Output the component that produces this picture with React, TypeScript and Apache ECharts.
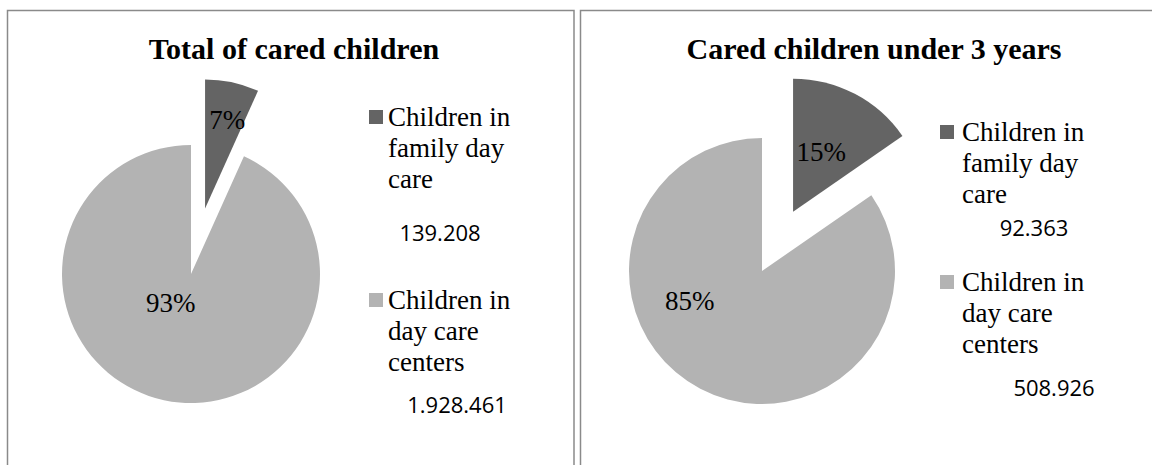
import React, { useEffect, useRef } from "react";
import * as echarts from "echarts";

// ---- data ----
const categories = ["Children in family day care", "Children in day care centers"];
const legendLines = [
  ["Children in", "family day", "care"],
  ["Children in", "day care", "centers"],
];
const chartTitles = ["Total of cared children", "Cared children under 3 years"];
const totalValues = [139208, 1928461];
const under3Values = [92363, 508926];
const sliceColors = ["#646464", "#b3b3b3"];

const SERIF = "'Liberation Serif', serif";
const SANS = "'Open Sans', sans-serif";

function fmt(n: number): string {
  return String(n).replace(/\B(?=(\d{3})+(?!\d))/g, ".");
}

type PanelCfg = {
  values: number[];
  title: string;
  cx: number;
  cy: number;
  r: number;
  titleX: number;
  iconX: number;
  textX: number;
  firstLineY: number[];
  valueX: number[];
  valueY: number[];
  labelNudge: number[][];
};

const panels: PanelCfg[] = [
  {
    values: totalValues,
    title: chartTitles[0],
    cx: 191,
    cy: 274,
    r: 129,
    titleX: 289,
    iconX: 369,
    textX: 388,
    firstLineY: [117, 300],
    valueX: [440, 457],
    valueY: [232, 404],
    labelNudge: [
      [8, -22],
      [-6, -37],
    ],
  },
  {
    values: under3Values,
    title: chartTitles[1],
    cx: 762,
    cy: 271,
    r: 133,
    titleX: 869,
    iconX: 940,
    textX: 962,
    firstLineY: [132, 282],
    valueX: [1034, 1054],
    valueY: [227, 387],
    labelNudge: [
      [-4, 2],
      [-40, -32],
    ],
  },
];

export default function App() {
  const ref = useRef<HTMLDivElement>(null);

  useEffect(() => {
    document.body.style.margin = "0";
    if (!ref.current) return;
    const chart = echarts.init(ref.current, undefined, { renderer: "svg" });

    const series: any[] = panels.map((p) => ({
      type: "pie",
      center: [p.cx, p.cy],
      radius: p.r,
      startAngle: 90,
      clockwise: true,
      selectedMode: "single",
      selectedOffset: 67,
      avoidLabelOverlap: false,
      silent: true,
      data: p.values.map((v, i) => ({
        name: categories[i],
        value: v,
        selected: i === 0,
        itemStyle: { color: sliceColors[i], borderWidth: 0 },
      })),
      label: {
        show: true,
        position: "inside",
        formatter: (params: any) => Math.round(params.percent) + "%",
        fontFamily: SERIF,
        fontSize: 27,
        color: "#000",
      },
      labelLine: { show: false },
      labelLayout: (params: any) => {
        const n = p.labelNudge[params.dataIndex];
        return { dx: n[0], dy: n[1] };
      },
      emphasis: { disabled: true },
    }));

    const graphics: any[] = [
      {
        type: "rect",
        shape: { x: 7.5, y: 10.5, width: 566.5, height: 600 },
        style: { fill: "none", stroke: "#8a8a8a", lineWidth: 1.5 },
        silent: true,
      },
      {
        type: "rect",
        shape: { x: 580.5, y: 10.5, width: 700, height: 600 },
        style: { fill: "none", stroke: "#8a8a8a", lineWidth: 1.5 },
        silent: true,
      },
    ];

    panels.forEach((p) => {
      p.values.forEach((v, i) => {
        const y0 = p.firstLineY[i];
        graphics.push({
          type: "rect",
          shape: { x: p.iconX, y: y0 - 7, width: 14, height: 14 },
          style: { fill: sliceColors[i] },
          silent: true,
        });
        graphics.push({
          type: "text",
          x: p.textX,
          y: y0 - 15.5,
          style: {
            text: legendLines[i].join("\n"),
            font: `27px ${SERIF}`,
            lineHeight: 31,
            fill: "#000",
            align: "left",
            verticalAlign: "top",
          },
          silent: true,
        });
        graphics.push({
          type: "text",
          x: p.valueX[i],
          y: p.valueY[i],
          style: {
            text: fmt(v),
            font: `22px ${SANS}`,
            fill: "#000",
            align: "center",
            verticalAlign: "middle",
          },
          silent: true,
        });
      });
    });

    chart.setOption({
      animation: false,
      backgroundColor: "#ffffff",
      title: panels.map((p) => ({
        text: p.title,
        left: p.titleX,
        top: 28,
        textAlign: "center",
        textStyle: {
          fontFamily: SERIF,
          fontWeight: "bold",
          fontSize: 30,
          color: "#000",
        },
      })),
      series,
      graphic: graphics,
    });

    return () => chart.dispose();
  }, []);

  return <div ref={ref} style={{ width: 1152, height: 465 }} />;
}
